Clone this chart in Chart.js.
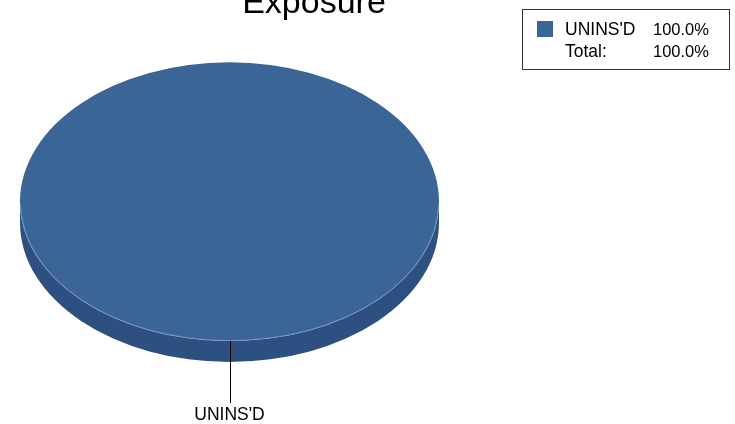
<!DOCTYPE html>
<html>
<head>
<meta charset="utf-8">
<script src="https://cdn.jsdelivr.net/npm/chart.js@4/dist/chart.umd.min.js"></script>
<style>
  html, body { margin: 0; padding: 0; background: #fff; }
  #wrap { position: relative; width: 735px; height: 424px; }
</style>
</head>
<body>
<div id="wrap"><canvas id="c" width="735" height="424"></canvas></div>
<script>
// Chart data
const chartTitle = "Exposure";
const categories = ["UNINS'D"];
const shares = [100.0];
const totalLabel = "Total:";
const sliceColors = ['#3a6596'];
const sideColors = ['#2d5080'];

// Presentation settings for the tilted pie
const FONT = '"Liberation Sans", Arial, Helvetica, sans-serif';
const TILT = 139 / 209;      // vertical squash of the pie face
const FACE_CY = 201.7;       // centre line of the tilted face
const DEPTH = 21;            // thickness of the pie rim

const fmtPct = v => v.toFixed(1) + '%';

const tiltedPie = {
  id: 'tiltedPie',
  beforeDatasetsDraw(chart) {
    const ctx = chart.ctx;
    const meta = chart.getDatasetMeta(0);
    // rim: lower half of each slice, pushed down by the depth
    meta.data.forEach((arc, i) => {
      const R = arc.outerRadius, ry = R * TILT, cx = arc.x;
      ctx.save();
      ctx.beginPath();
      ctx.moveTo(cx - R, FACE_CY);
      ctx.ellipse(cx, FACE_CY + DEPTH, R, ry, 0, Math.PI, 0, true);
      ctx.lineTo(cx + R, FACE_CY);
      ctx.ellipse(cx, FACE_CY, R, ry, 0, 0, Math.PI, false);
      ctx.closePath();
      ctx.fillStyle = sideColors[i % sideColors.length];
      ctx.fill();
      ctx.restore();
    });
    // squash the face drawn by the library into an ellipse
    const cy = meta.data[0].y;
    ctx.save();
    ctx.translate(0, FACE_CY);
    ctx.scale(1, TILT);
    ctx.translate(0, -cy);
  },
  afterDatasetsDraw(chart) {
    const ctx = chart.ctx;
    ctx.restore();
    // light rim where the face meets the side
    const meta = chart.getDatasetMeta(0);
    meta.data.forEach(arc => {
      const R = arc.outerRadius;
      ctx.save();
      ctx.strokeStyle = 'rgba(150,178,212,0.75)';
      ctx.lineWidth = 0.8;
      ctx.beginPath();
      ctx.ellipse(arc.x, FACE_CY, R - 0.4, R * TILT - 0.4, 0, 0.02, Math.PI - 0.02, false);
      ctx.stroke();
      ctx.restore();
    });
  },
  afterDraw(chart) {
    const ctx = chart.ctx;
    const meta = chart.getDatasetMeta(0);

    // slice labels with leader lines
    meta.data.forEach((arc, i) => {
      const mid = (arc.startAngle + arc.endAngle) / 2;
      const R = arc.outerRadius;
      const x = arc.x + R * Math.cos(mid);
      const y = FACE_CY + R * TILT * Math.sin(mid);
      ctx.save();
      ctx.strokeStyle = '#000';
      ctx.lineWidth = 1;
      ctx.beginPath();
      ctx.moveTo(Math.round(x) + 0.5, y);
      ctx.lineTo(Math.round(x) + 0.5, 403);
      ctx.stroke();
      ctx.fillStyle = '#000';
      ctx.font = '17.5px ' + FONT;
      ctx.textAlign = 'center';
      ctx.textBaseline = 'alphabetic';
      ctx.fillText(categories[i], x, 420);
      ctx.restore();
    });

    // title
    ctx.save();
    ctx.fillStyle = '#000';
    ctx.font = '34px ' + FONT;
    ctx.textAlign = 'center';
    ctx.textBaseline = 'alphabetic';
    ctx.fillText(chartTitle, 314, 13);
    ctx.restore();

    // legend box
    ctx.save();
    ctx.strokeStyle = '#333';
    ctx.lineWidth = 1;
    ctx.strokeRect(522.5, 9.5, 207, 60);
    ctx.textBaseline = 'alphabetic';
    ctx.textAlign = 'left';
    const wordFont = '17.5px ' + FONT;
    const numFont = '16.5px ' + FONT;
    let rowY = 35;
    categories.forEach((name, i) => {
      ctx.fillStyle = sliceColors[i % sliceColors.length];
      ctx.fillRect(537, rowY - 14, 16, 16);
      ctx.fillStyle = '#000';
      ctx.font = wordFont;
      ctx.fillText(name, 565, rowY);
      ctx.font = numFont;
      ctx.fillText(fmtPct(shares[i]), 653, rowY);
      rowY += 22;
    });
    const total = shares.reduce((a, b) => a + b, 0);
    ctx.fillStyle = '#000';
    ctx.font = wordFont;
    ctx.fillText(totalLabel, 565, rowY);
    ctx.font = numFont;
    ctx.fillText(fmtPct(total), 653, rowY);
    ctx.restore();
  }
};

new Chart(document.getElementById('c'), {
  type: 'pie',
  data: {
    labels: categories,
    datasets: [{
      data: shares,
      backgroundColor: sliceColors,
      borderWidth: 0,
      clip: false
    }]
  },
  options: {
    responsive: false,
    animation: false,
    events: [],
    layout: { padding: { left: 20, right: 296, top: 2, bottom: 3 } },
    plugins: {
      legend: { display: false },
      title: { display: false },
      tooltip: { enabled: false }
    }
  },
  plugins: [tiltedPie]
});
</script>
</body>
</html>
